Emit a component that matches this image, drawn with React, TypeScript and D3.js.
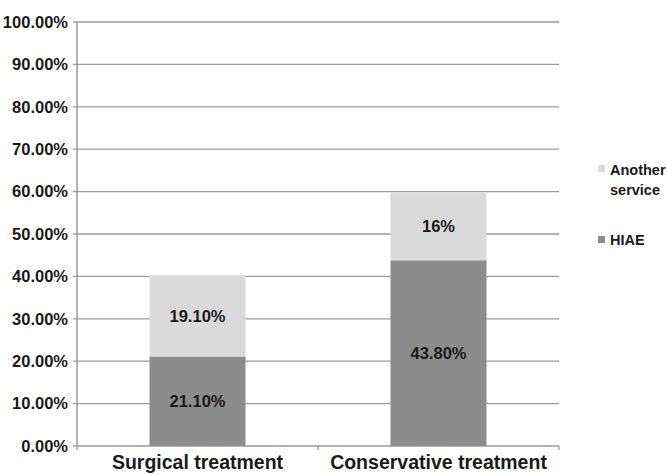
import React from "react";
import * as d3 from "d3";

const categories = ["Surgical treatment", "Conservative treatment"];
const hiae = [21.1, 43.8];
const another = [19.1, 16];
const hiaeLabels = ["21.10%", "43.80%"];
const anotherLabels = ["19.10%", "16%"];
const yTicks = [0, 10, 20, 30, 40, 50, 60, 70, 80, 90, 100];

const W = 667, H = 475;
const left = 77, right = 559, top = 22, bottom = 446;
const font = "'Liberation Sans', Arial, sans-serif";
const darkCol = "#8c8c8c";
const lightCol = "#dadada";

export default function App() {
  const x = d3.scaleBand<string>().domain(categories).range([left, right]).paddingInner(0).paddingOuter(0);
  const y = d3.scaleLinear().domain([0, 100]).range([bottom, top]);
  const barW = 96;
  return (
    <svg width={W} height={H} style={{ position: "absolute", left: 0, top: 0 }}>
      <rect width={W} height={H} fill="#fff" />
      {yTicks.map((t) => (
        <g key={t}>
          <line x1={left - 4} x2={right} y1={y(t)} y2={y(t)} stroke="#9a9a9a" strokeWidth={1.3} />
          <text x={left - 9} y={y(t)} dy="0.35em" textAnchor="end" fontFamily={font} fontWeight="bold" fontSize={16.5} fill="#1a1a1a">
            {t.toFixed(2)}%
          </text>
        </g>
      ))}
      <line x1={left} x2={left} y1={top} y2={bottom} stroke="#9a9a9a" strokeWidth={1.5} />
      {[left, left + x.bandwidth(), right].map((xx, i) => (
        <line key={i} x1={xx} x2={xx} y1={bottom} y2={bottom + 4} stroke="#9a9a9a" strokeWidth={1.3} />
      ))}
      {categories.map((c, i) => {
        const cx = (x(c) as number) + x.bandwidth() / 2;
        const y0 = y(0), y1 = y(hiae[i]), y2 = y(hiae[i] + another[i]);
        return (
          <g key={c}>
            <rect x={cx - barW / 2} y={y1} width={barW} height={y0 - y1} fill={darkCol} />
            <rect x={cx - barW / 2} y={y2} width={barW} height={y1 - y2} fill={lightCol} />
            <text x={cx} y={(y0 + y1) / 2} dy="0.35em" textAnchor="middle" fontFamily={font} fontWeight="bold" fontSize={16.5} fill="#1a1a1a">{hiaeLabels[i]}</text>
            <text x={cx} y={(y1 + y2) / 2} dy="0.35em" textAnchor="middle" fontFamily={font} fontWeight="bold" fontSize={16.5} fill="#1a1a1a">{anotherLabels[i]}</text>
            <text x={cx} y={bottom + 23} textAnchor="middle" fontFamily={font} fontWeight="bold" fontSize={19.5} fill="#1a1a1a">{c}</text>
          </g>
        );
      })}
      <g fontFamily={font} fontWeight="bold" fontSize={14.5} fill="#1a1a1a">
        <rect x={598} y={165} width={7} height={7} fill={lightCol} />
        <text x={610} y={175}>Another</text>
        <text x={610} y={195}>service</text>
        <rect x={598} y={236} width={7} height={7} fill={darkCol} />
        <text x={610} y={245}>HIAE</text>
      </g>
    </svg>
  );
}
